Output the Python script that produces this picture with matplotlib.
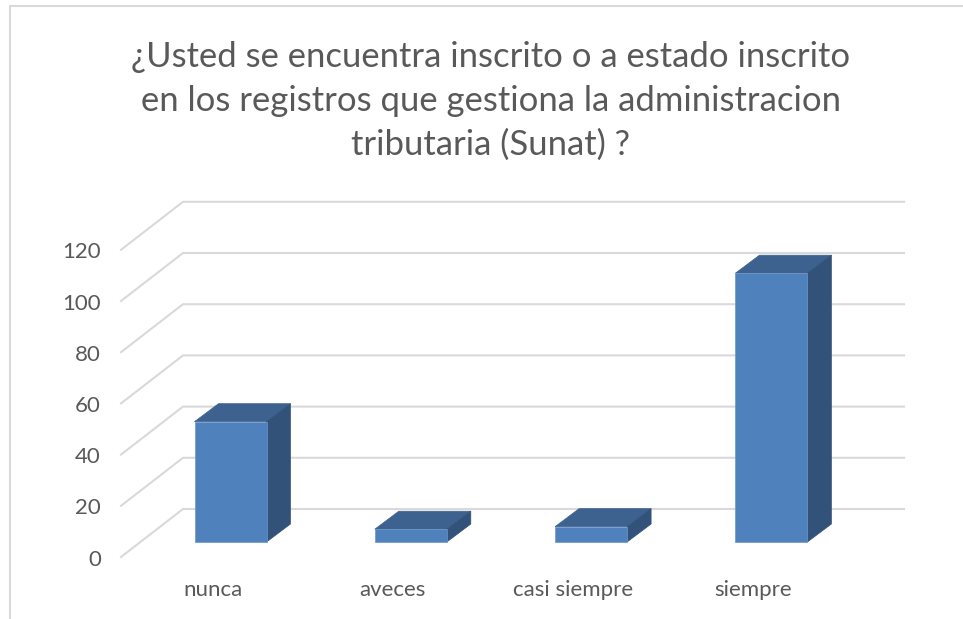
# 3d looking column chart, drawn by hand on a flat axes
import matplotlib
matplotlib.use('Agg')
import matplotlib.pyplot as plt
from matplotlib.patches import Polygon

categories = ['nunca', 'aveces', 'casi siempre', 'siempre']
values = [47, 5, 6, 105]
y_ticks = [0, 20, 40, 60, 80, 100, 120]
title = '¿Usted se encuentra inscrito o a estado inscrito\nen los registros que gestiona la administracion\ntributaria (Sunat) ?'

plt.rcParams['font.family'] = ['Lato', 'DejaVu Sans']

W, H = 963, 619
# one category is 180.3 px, one value unit is 2.56 px
XS = 180.3
YS = 2.56
X0 = 230.5  # centre of first bar
Y0 = 542    # bar base

fig = plt.figure(figsize=(W / 100, H / 100), dpi=100)
ax = fig.add_axes([0, 0, 1, 1])
ax.set_xlim(-X0 / XS, (W - X0) / XS)
ax.set_ylim((Y0 - H) / YS, Y0 / YS)
ax.axis('off')

# wall and floor offsets
front_x = (121 - X0) / XS
back_x = (183 - X0) / XS
end_x = (904 - X0) / XS
front_y = (Y0 - 557) / YS
back_y = (Y0 - 509) / YS

grid = '#d9d9d9'
for v in y_ticks:
    ax.plot([front_x, back_x, end_x], [v + front_y, v + back_y, v + back_y],
            color=grid, lw=1.5, zorder=1, solid_joinstyle='miter')
    ax.text(front_x - 20 / XS, v + front_y - 1.0, str(v), ha='right', va='center',
            fontsize=16, color='#595959')

# bars
bw = 72 / XS
dx = 24 / XS
dy = 18 / YS
edge = '#6d96c8'
for i, v in enumerate(values):
    l = i - bw / 2
    r = i + bw / 2
    ax.add_patch(Polygon([(l, v), (l + dx, v + dy), (r + dx, v + dy), (r, v)],
                         facecolor='#3d6290', edgecolor='#3d6290', lw=0.5, zorder=3))
    ax.add_patch(Polygon([(r, 0), (r + dx, dy), (r + dx, v + dy), (r, v)],
                         facecolor='#325279', edgecolor='#325279', lw=0.5, zorder=3))
    ax.bar(i, v, width=bw, color='#4f81bd', edgecolor=edge, lw=0.5, zorder=4)
    ax.text(i - 18 / XS, -47.5 / YS, categories[i], ha='center', va='center',
            fontsize=16, color='#595959')

# outer frame of the chart
border = '#d9d9d9'
fig.add_artist(plt.Line2D([9.5 / W, 9.5 / W, 1], [0, 1 - 5.5 / H, 1 - 5.5 / H],
                          color=border, lw=1.5))

fig.text(490.5 / W, 1 - 101 / H, title, ha='center', va='center', fontsize=24.9,
         color='#595959', linespacing=1.44)

fig.savefig('out.png', dpi=100)
